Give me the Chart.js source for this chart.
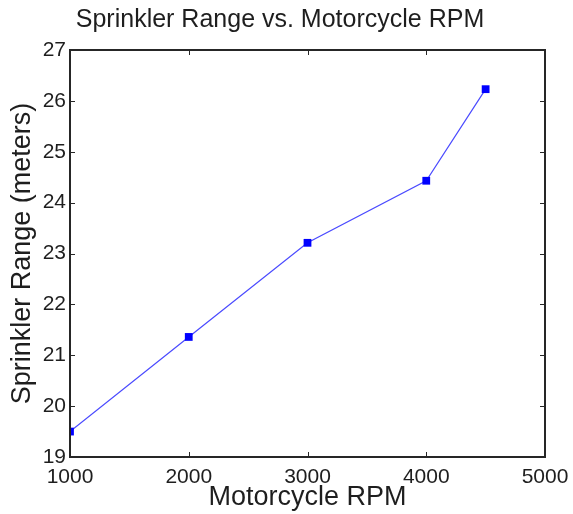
<!DOCTYPE html>
<html>
<head>
<meta charset="utf-8">
<script src="https://cdn.jsdelivr.net/npm/chart.js@4.4.1/dist/chart.umd.min.js"></script>
<style>
  html, body { margin: 0; padding: 0; background: #fff; }
  #wrap { width: 573px; height: 514px; }
</style>
</head>
<body>
<div id="wrap"><canvas id="rpmChart"></canvas></div>
<script>
// data
const rpmValues = [1000, 2000, 3000, 4000, 4500];
const rangeMeters = [19.5, 21.36, 23.21, 24.43, 26.23];
const xTickLabels = [1000, 2000, 3000, 4000, 5000];
const yTickLabels = [19, 20, 21, 22, 23, 24, 25, 26, 27];

const points = rpmValues.map((x, i) => ({ x: x, y: rangeMeters[i] }));

// matlab style frame: box round the plot, ticks pointing inwards on all 4 sides
const frameBox = {
  id: 'frameBox',
  afterDatasetsDraw(chart) {
    const { ctx, chartArea: a, scales } = chart;
    const len = 5;
    ctx.save();
    ctx.strokeStyle = '#262626';
    ctx.lineWidth = 1;
    scales.x.ticks.forEach(t => {
      const px = Math.round(scales.x.getPixelForValue(t.value)) + 0.5;
      ctx.beginPath();
      ctx.moveTo(px, a.bottom); ctx.lineTo(px, a.bottom - len);
      ctx.moveTo(px, a.top); ctx.lineTo(px, a.top + len);
      ctx.stroke();
    });
    scales.y.ticks.forEach(t => {
      const py = Math.round(scales.y.getPixelForValue(t.value)) + 0.5;
      ctx.beginPath();
      ctx.moveTo(a.left, py); ctx.lineTo(a.left + len, py);
      ctx.moveTo(a.right, py); ctx.lineTo(a.right - len, py);
      ctx.stroke();
    });
    ctx.lineWidth = 2;
    ctx.strokeRect(a.left, a.top, a.right - a.left, a.bottom - a.top);
    ctx.restore();
  }
};

Chart.defaults.font.family = '"Liberation Sans", Arial, sans-serif';
Chart.defaults.color = '#1e1e1e';

new Chart(document.getElementById('rpmChart'), {
  type: 'line',
  data: {
    datasets: [{
      data: points,
      borderColor: '#4a4aff',
      borderWidth: 1.2,
      backgroundColor: '#0000ff',
      pointBackgroundColor: '#0000ff',
      pointBorderWidth: 0,
      pointStyle: 'rect',
      pointRadius: 5.5,
      tension: 0
    }]
  },
  options: {
    responsive: true,
    maintainAspectRatio: false,
    animation: false,
    layout: { padding: { left: 0, right: 13, top: 0, bottom: 0 } },
    plugins: {
      legend: { display: false },
      tooltip: { enabled: false },
      title: {
        display: true,
        text: 'Sprinkler Range vs. Motorcycle RPM',
        font: { size: 25, weight: 'normal' },
        color: '#1e1e1e',
        padding: { top: 5, bottom: 15 }
      }
    },
    scales: {
      x: {
        type: 'linear',
        min: 1000,
        max: 5000,
        afterBuildTicks: s => { s.ticks = xTickLabels.map(v => ({ value: v })); },
        // fixed strip height; the last label may hang over the frame like in the reference
        afterFit: s => { s.height = 57; s.paddingRight = 0; s.paddingLeft = 0; },
        ticks: { font: { size: 21 }, padding: 8, maxRotation: 0, callback: v => String(v) },
        grid: { display: false, drawTicks: false },
        border: { display: false },
        title: { display: true, text: 'Motorcycle RPM', font: { size: 27 }, padding: { top: 0, bottom: 0 } }
      },
      y: {
        type: 'linear',
        min: 19,
        max: 27,
        afterBuildTicks: s => { s.ticks = yTickLabels.map(v => ({ value: v })); },
        afterFit: s => { s.width = 70; },
        ticks: { font: { size: 21 }, padding: 4, callback: v => String(v) },
        grid: { display: false, drawTicks: false },
        border: { display: false },
        title: { display: true, text: 'Sprinkler Range (meters)', font: { size: 27 }, padding: { top: 6, bottom: 0 } }
      },
      // empty right side strip so the frame ends where the reference does
      yRight: {
        type: 'linear',
        position: 'right',
        min: 19,
        max: 27,
        afterFit: s => { s.width = 15; },
        ticks: { display: false },
        grid: { display: false, drawTicks: false },
        border: { display: false }
      }
    }
  },
  plugins: [frameBox]
});
</script>
</body>
</html>
